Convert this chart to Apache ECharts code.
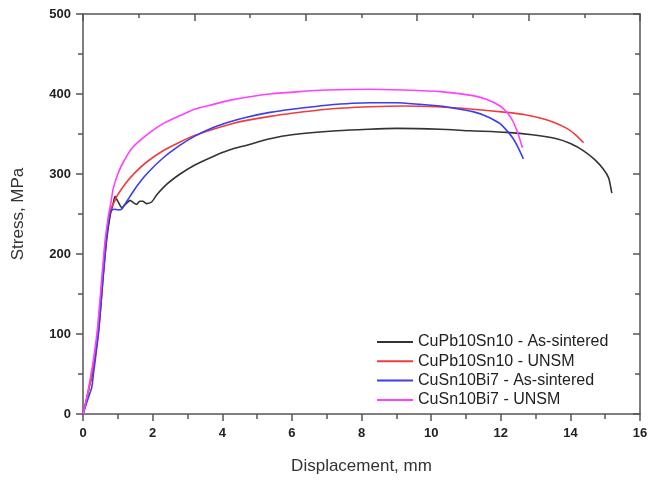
<!DOCTYPE html>
<html>
<head>
<meta charset="utf-8">
<script src="https://cdn.jsdelivr.net/npm/echarts@6/dist/echarts.min.js"></script>
<style>
  html, body { margin: 0; padding: 0; background: #fff; }
  #chart { width: 651px; height: 480px; }
</style>
</head>
<body>
<div id="chart"></div>
<script>
const seriesNames = [
  "CuPb10Sn10 - As-sintered",
  "CuPb10Sn10 - UNSM",
  "CuSn10Bi7 - As-sintered",
  "CuSn10Bi7 - UNSM"
];

// [displacement mm, stress MPa]
const pbAsSintered = [
  [0, 0], [0.12, 22], [0.2, 38], [0.27, 50], [0.35, 72], [0.47, 115], [0.58, 172],
  [0.68, 218], [0.78, 248], [0.86, 262], [0.92, 272], [1.0, 266], [1.11, 258],
  [1.22, 262], [1.35, 267], [1.45, 264], [1.54, 262], [1.63, 266], [1.72, 266],
  [1.82, 263], [1.97, 265], [2.12, 274], [2.4, 287], [2.79, 300], [3.2, 311],
  [3.74, 322], [4.2, 330], [4.7, 336], [5.37, 344], [6.0, 349], [7.29, 354],
  [8.2, 356], [9.01, 357], [10.26, 356], [11.12, 354], [12.17, 352], [12.9, 349],
  [13.61, 344], [14.0, 338], [14.38, 329], [14.7, 318], [14.95, 306], [15.1, 295],
  [15.19, 276]
];
const pbUnsm = [
  [0, 0], [0.1, 18], [0.2, 38], [0.25, 48], [0.3, 58], [0.42, 103], [0.54, 163],
  [0.63, 208], [0.72, 240], [0.8, 256], [0.9, 265], [0.97, 272], [1.2, 287],
  [1.5, 302], [1.83, 315], [2.3, 329], [2.79, 340], [3.2, 348], [3.74, 356],
  [4.2, 362], [4.7, 367], [5.37, 372], [6.0, 376], [7.0, 381], [8.25, 384],
  [9.2, 385], [10.16, 384], [11.2, 381], [12.17, 377], [12.7, 374], [13.13, 370],
  [13.5, 365], [13.9, 357], [14.15, 349], [14.38, 339]
];
const biAsSintered = [
  [0, 0], [0.15, 20], [0.25, 33], [0.3, 50], [0.45, 103], [0.57, 168], [0.66, 213],
  [0.74, 245], [0.8, 254], [0.9, 256], [1.0, 255], [1.11, 256], [1.2, 262],
  [1.35, 272], [1.55, 285], [1.83, 300], [2.3, 320], [2.79, 336], [3.2, 347],
  [3.74, 358], [4.2, 365], [4.7, 371], [5.37, 377], [6.0, 381], [7.0, 386],
  [8.25, 389], [9.0, 389], [9.68, 387], [10.26, 385], [10.7, 382], [11.2, 378],
  [11.6, 372], [11.98, 363], [12.2, 353], [12.36, 344], [12.5, 333], [12.65, 319]
];
const biUnsm = [
  [0, 0], [0.1, 18], [0.2, 42], [0.3, 68], [0.42, 108], [0.54, 170], [0.63, 215],
  [0.72, 245], [0.8, 264], [0.87, 282], [1.0, 300], [1.16, 315], [1.4, 332],
  [1.83, 349], [2.3, 363], [2.79, 373], [3.2, 381], [3.74, 387], [4.2, 392],
  [4.7, 396], [5.37, 400], [6.2, 403], [7.0, 405], [8.25, 406], [9.2, 405],
  [10.26, 403], [11.2, 398], [11.6, 393], [11.98, 385], [12.2, 376], [12.36, 365],
  [12.5, 350], [12.6, 336], [12.63, 333]
];

const seriesData = [pbAsSintered, pbUnsm, biAsSintered, biUnsm];
const seriesColors = ["#333333", "#f03c3c", "#3c3cf0", "#ff40ff"];

const axisColor = "#555";
const axisLine = { show: true, onZero: false, lineStyle: { color: axisColor, width: 1.5 } };
const labelStyle = {
  color: "#222",
  fontFamily: "Liberation Sans",
  fontWeight: "bold",
  fontSize: 13
};

const chart = echarts.init(document.getElementById("chart"));
chart.setOption({
  animation: false,
  backgroundColor: "#fff",
  grid: { left: 83, right: 11, top: 14, bottom: 61 },
  legend: {
    orient: "vertical",
    left: 377,
    top: 334,
    padding: 0,
    itemWidth: 36,
    itemHeight: 2,
    itemGap: 3.3,
    icon: "rect",
    textStyle: {
      color: "#222",
      fontFamily: "Liberation Sans",
      fontSize: 16,
      lineHeight: 16
    },
    data: seriesNames
  },
  xAxis: [
    {
      type: "value",
      position: "bottom",
      min: 0,
      max: 16,
      interval: 2,
      name: "Displacement, mm",
      nameLocation: "middle",
      nameGap: 44,
      nameTextStyle: { color: "#333", fontFamily: "Liberation Sans", fontSize: 17 },
      axisLine: axisLine,
      axisTick: { show: true, inside: false, length: 7, lineStyle: { color: axisColor, width: 1.5 } },
      minorTick: { show: true, splitNumber: 2, length: 5, lineStyle: { color: axisColor, width: 1.5 } },
      axisLabel: { ...labelStyle, margin: 13 },
      splitLine: { show: false }
    },
    {
      type: "value",
      position: "top",
      min: 0,
      max: 16,
      interval: 3.2,
      axisLine: axisLine,
      axisTick: { show: true, inside: true, length: 7, lineStyle: { color: axisColor, width: 1.5 } },
      minorTick: { show: true, splitNumber: 2, length: 4, lineStyle: { color: axisColor, width: 1.5 } },
      axisLabel: { show: false },
      splitLine: { show: false }
    }
  ],
  yAxis: [
    {
      type: "value",
      position: "left",
      min: 0,
      max: 500,
      interval: 100,
      name: "Stress, MPa",
      nameLocation: "middle",
      nameGap: 56,
      nameTextStyle: { color: "#333", fontFamily: "Liberation Sans", fontSize: 17 },
      axisLine: axisLine,
      axisTick: { show: true, inside: false, length: 7, lineStyle: { color: axisColor, width: 1.5 } },
      minorTick: { show: true, splitNumber: 2, length: 5, lineStyle: { color: axisColor, width: 1.5 } },
      axisLabel: { ...labelStyle, margin: 12 },
      splitLine: { show: false }
    },
    {
      type: "value",
      position: "right",
      min: 0,
      max: 500,
      interval: 100,
      axisLine: axisLine,
      axisTick: { show: true, inside: true, length: 7, lineStyle: { color: axisColor, width: 1.5 } },
      minorTick: { show: true, splitNumber: 2, length: 5, lineStyle: { color: axisColor, width: 1.5 } },
      axisLabel: { show: false },
      splitLine: { show: false }
    }
  ],
  series: seriesNames.map((name, i) => ({
    name: name,
    type: "line",
    xAxisIndex: 0,
    yAxisIndex: 0,
    data: seriesData[i],
    showSymbol: false,
    smooth: 0.2,
    color: seriesColors[i],
    lineStyle: { color: seriesColors[i], width: 1.6 }
  }))
});
</script>
</body>
</html>
